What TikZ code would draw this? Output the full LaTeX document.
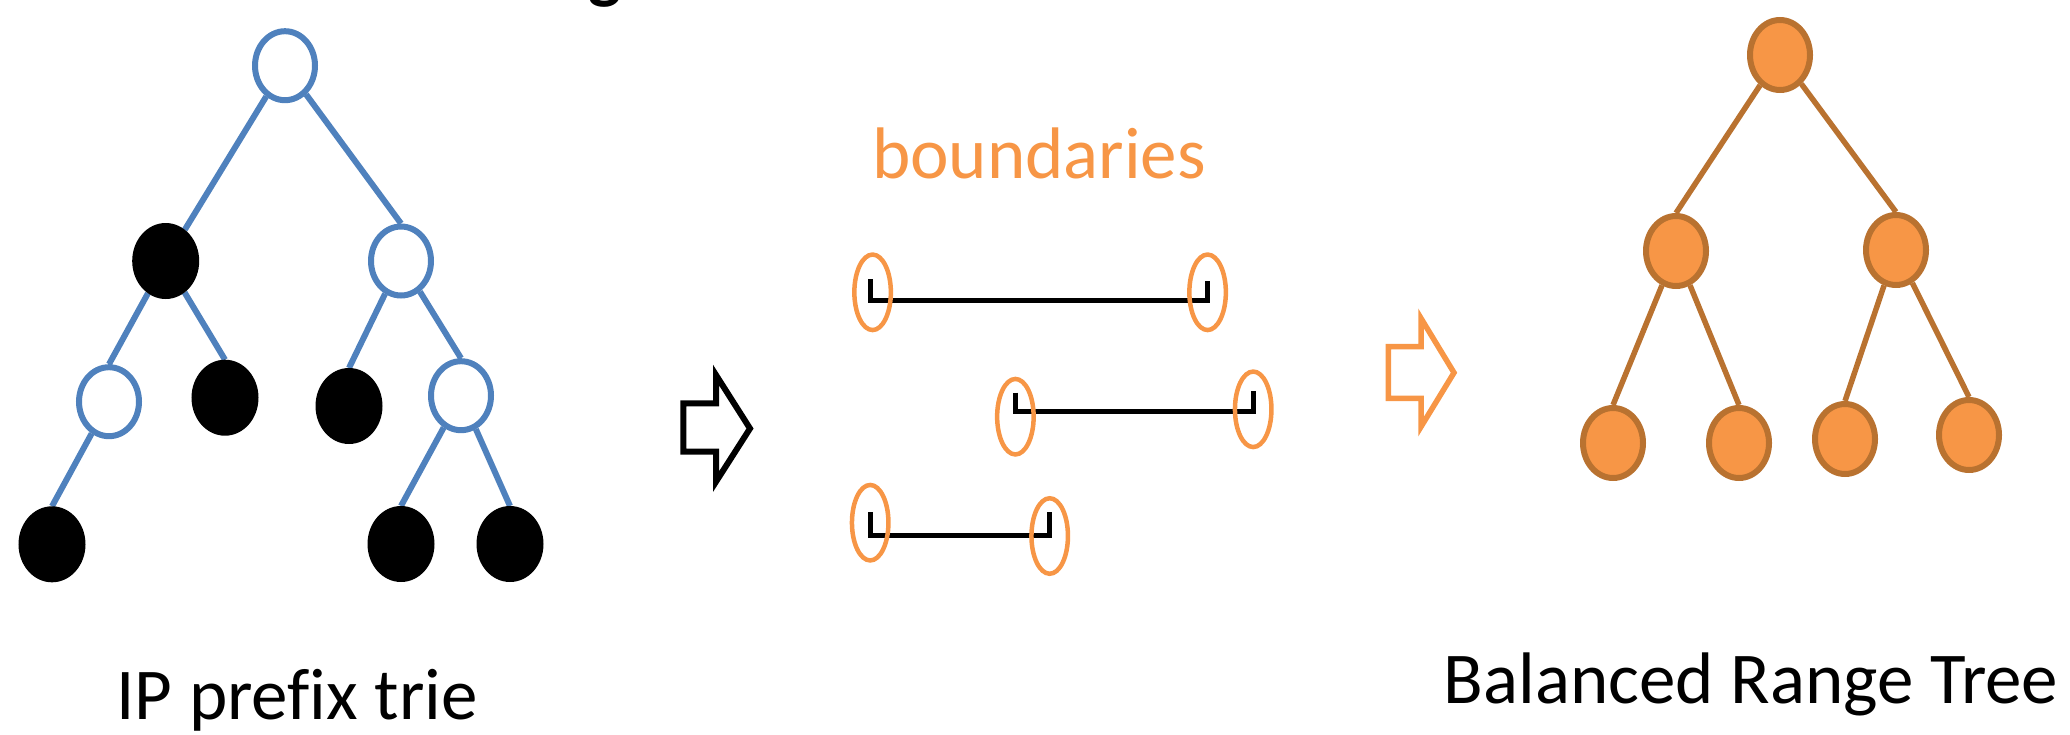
\documentclass[tikz,border=0pt]{standalone}
\usepackage{fontspec}
\setmainfont[Ligatures=NoCommon]{Carlito}
\usetikzlibrary{shapes.geometric,backgrounds}
\definecolor{trieblue}{RGB}{79,129,189}
\definecolor{orfill}{RGB}{247,150,70}
\definecolor{ordraw}{RGB}{185,114,48}
\begin{document}
\begin{tikzpicture}[x=1pt,y=-1pt,
  trienode/.style={ellipse,draw=trieblue,fill=white,line width=6pt,minimum width=60pt,minimum height=69pt,inner sep=0pt},
  leafnode/.style={ellipse,draw=black,fill=black,line width=5pt,minimum width=62pt,minimum height=71pt,inner sep=0pt},
  trieedge/.style={draw=trieblue,line width=6pt},
  rnode/.style={ellipse,draw=ordraw,fill=orfill,line width=6pt,minimum width=60pt,minimum height=70pt,inner sep=0pt},
  redge/.style={draw=ordraw,line width=5.5pt},
  bnd/.style={ellipse,draw=orfill,line width=4.5pt,minimum width=36.5pt,minimum height=75.5pt,inner sep=0pt},
  interval/.style={draw=black,line width=5pt,line join=miter},
  blockarrow/.style={line join=miter},
  captiontext/.style={font=\fontsize{73}{80}\selectfont,anchor=base,inner sep=0pt}
]
\useasboundingbox (0,0) rectangle (2070,734);

% partial title glyph at the top edge
\begin{scope}
  \clip (0,0) rectangle (2070,734);
  \node[font=\bfseries\fontsize{70}{80}\selectfont,anchor=base,inner sep=0pt] (gfrag) at (605,-4.5) {g};
\end{scope}

% IP prefix trie
\node[trienode] (r) at (285,65.7) {};
\node[leafnode] (a) at (165.7,261) {};
\node[trienode] (b) at (401,261) {};
\node[trienode] (c) at (109,401.7) {};
\node[leafnode] (d) at (225,397.7) {};
\node[leafnode] (e) at (349,406) {};
\node[trienode] (f) at (461,395.7) {};
\node[leafnode] (g) at (52,544.3) {};
\node[leafnode] (h) at (401,544) {};
\node[leafnode] (i) at (510,544) {};
\begin{scope}[on background layer]
  \draw[trieedge] (r) -- (a);
  \draw[trieedge] (r) -- (b.north);
  \draw[trieedge] (a) -- (c.north);
  \draw[trieedge] (a) -- (d.north);
  \draw[trieedge] (b) -- (e.north);
  \draw[trieedge] (b) -- (f.north);
  \draw[trieedge] (c) -- (g.north);
  \draw[trieedge] (f) -- (h.north);
  \draw[trieedge] (f) -- (i.north);
\end{scope}
\node[captiontext] (t1) at (297,719) {IP prefix trie};

% black block arrow
\draw[blockarrow,draw=black,line width=6pt] (683.3,403.3) -- (716,403.3) -- (716,375) -- (750,428.5) -- (716,481.7) -- (716,451.7) -- (683.3,451.7) -- cycle;

% boundaries
\node[captiontext,text=orfill] (t2) at (1039,178) {boundaries};
\draw[interval] (870.2,279.3) -- (870.2,300) -- (1207.9,300) -- (1207.9,281);
\draw[interval] (1015.4,392.7) -- (1015.4,411.7) -- (1253.5,411.7) -- (1253.5,391);
\draw[interval] (870.2,512.3) -- (870.2,535) -- (1049.7,535) -- (1049.7,512.3);
\node[bnd] (p1) at (872.6,292.3) {};
\node[bnd] (q1) at (1207.6,292.3) {};
\node[bnd] (p2) at (1015.4,416.7) {};
\node[bnd] (q2) at (1253.2,409.3) {};
\node[bnd] (p3) at (870.2,522.7) {};
\node[bnd] (q3) at (1049.7,536) {};

% orange block arrow
\draw[blockarrow,draw=orfill,line width=5.5pt] (1388.3,346.7) -- (1421,346.7) -- (1421,318.3) -- (1454,372.7) -- (1421,426.7) -- (1421,398.3) -- (1388.3,398.3) -- cycle;

% Balanced range tree
\node[rnode] (R) at (1780,55) {};
\node[rnode] (L) at (1676,251) {};
\node[rnode] (Rr) at (1896,250) {};
\node[rnode] (l1) at (1613,443) {};
\node[rnode] (l2) at (1739,443) {};
\node[rnode] (l3) at (1845,439) {};
\node[rnode] (l4) at (1969,435) {};
\begin{scope}[on background layer]
  \draw[redge] (R) -- (L.north);
  \draw[redge] (R) -- (Rr.north);
  \draw[redge] (L) -- (l1.north);
  \draw[redge] (L) -- (l2.north);
  \draw[redge] (Rr) -- (l3.north);
  \draw[redge] (Rr) -- (l4.north);
\end{scope}
\node[captiontext] (t3) at (1751,703.3) {Balanced Range Tree};
\end{tikzpicture}
\end{document}
